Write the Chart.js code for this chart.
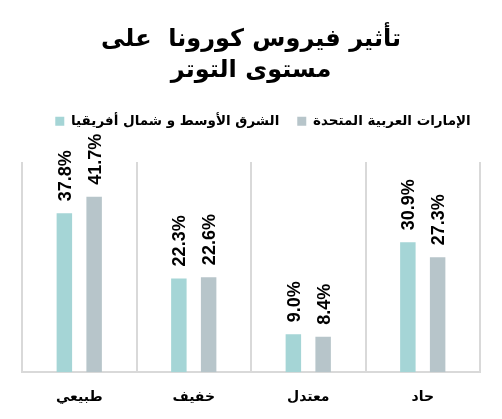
<!DOCTYPE html>
<html>
<head>
<meta charset="utf-8">
<script src="https://cdn.jsdelivr.net/npm/chart.js@4.4.1/dist/chart.umd.min.js"></script>
<style>
  body { margin: 0; background: #fff; }
  #wrap { width: 502px; height: 419px; }
</style>
</head>
<body>
<div id="wrap"><canvas id="stress"></canvas></div>
<script>
var categories = ['طبيعي', 'خفيف', 'معتدل', 'حاد'];
var menaValues = [37.8, 22.3, 9.0, 30.9];
var uaeValues = [41.7, 22.6, 8.4, 27.3];
var seriesNames = ['الشرق الأوسط و شمال أفريقيا', 'الإمارات العربية المتحدة'];
var titleLines = ['تأثير فيروس كورونا  على', 'مستوى التوتر'];

var arabicFont = "'DejaVu Sans', sans-serif";

// percent labels written upright above each bar
var barLabels = {
  id: 'barLabels',
  afterDatasetsDraw: function(chart) {
    var ctx = chart.ctx;
    ctx.save();
    ctx.fillStyle = '#000';
    ctx.font = "bold 18px 'Liberation Sans Narrow', 'Liberation Sans', sans-serif";
    ctx.textAlign = 'left';
    ctx.textBaseline = 'alphabetic';
    chart.data.datasets.forEach(function(ds, i) {
      chart.getDatasetMeta(i).data.forEach(function(bar, j) {
        ctx.save();
        ctx.translate(bar.x + 6.5, bar.y - 12);
        ctx.rotate(-Math.PI / 2);
        ctx.fillText(ds.data[j].toFixed(1) + '%', 0, 0);
        ctx.restore();
      });
    });
    ctx.restore();
  }
};

// more room under the legend, and nudge it a bit right
var legendSpace = {
  id: 'legendSpace',
  beforeInit: function(chart) {
    var fit = chart.legend.fit;
    chart.legend.fit = function() {
      fit.bind(chart.legend)();
      this.height += 24;
    };
  },
  afterLayout: function(chart) {
    chart.legend.left += 12;
    chart.legend.right += 12;
  }
};

var ctx = document.getElementById('stress');
var stressChart = new Chart(ctx, {
  type: 'bar',
  data: {
    labels: categories,
    datasets: [
      {
        label: seriesNames[0],
        backgroundColor: '#a5d5d6',
        data: menaValues,
        categoryPercentage: 0.52,
        barPercentage: 0.52
      },
      {
        label: seriesNames[1],
        backgroundColor: '#b7c5ca',
        data: uaeValues,
        categoryPercentage: 0.52,
        barPercentage: 0.52
      }
    ]
  },
  options: {
    responsive: true,
    maintainAspectRatio: false,
    animation: false,
    layout: {
      padding: { left: 22, right: 22, top: 24, bottom: -4 }
    },
    plugins: {
      title: {
        display: true,
        text: titleLines,
        color: '#000',
        font: { family: arabicFont, size: 24, weight: 'bold', lineHeight: 1.3 },
        padding: { top: 0, bottom: 10 }
      },
      legend: {
        labels: {
          boxWidth: 9,
          boxHeight: 9,
          color: '#000',
          padding: 18,
          font: { family: arabicFont, size: 13.5, weight: 'bold' }
        }
      },
      tooltip: { enabled: false }
    },
    scales: {
      x: {
        grid: {
          color: '#d9d9d9',
          lineWidth: 2,
          drawTicks: false
        },
        border: { color: '#d9d9d9', width: 2 },
        ticks: {
          color: '#000',
          padding: 21,
          font: { family: arabicFont, size: 14, weight: 'bold', lineHeight: 0.63 }
        }
      },
      y: {
        display: false,
        min: 0,
        max: 50
      }
    }
  },
  plugins: [barLabels, legendSpace]
});
</script>
</body>
</html>
